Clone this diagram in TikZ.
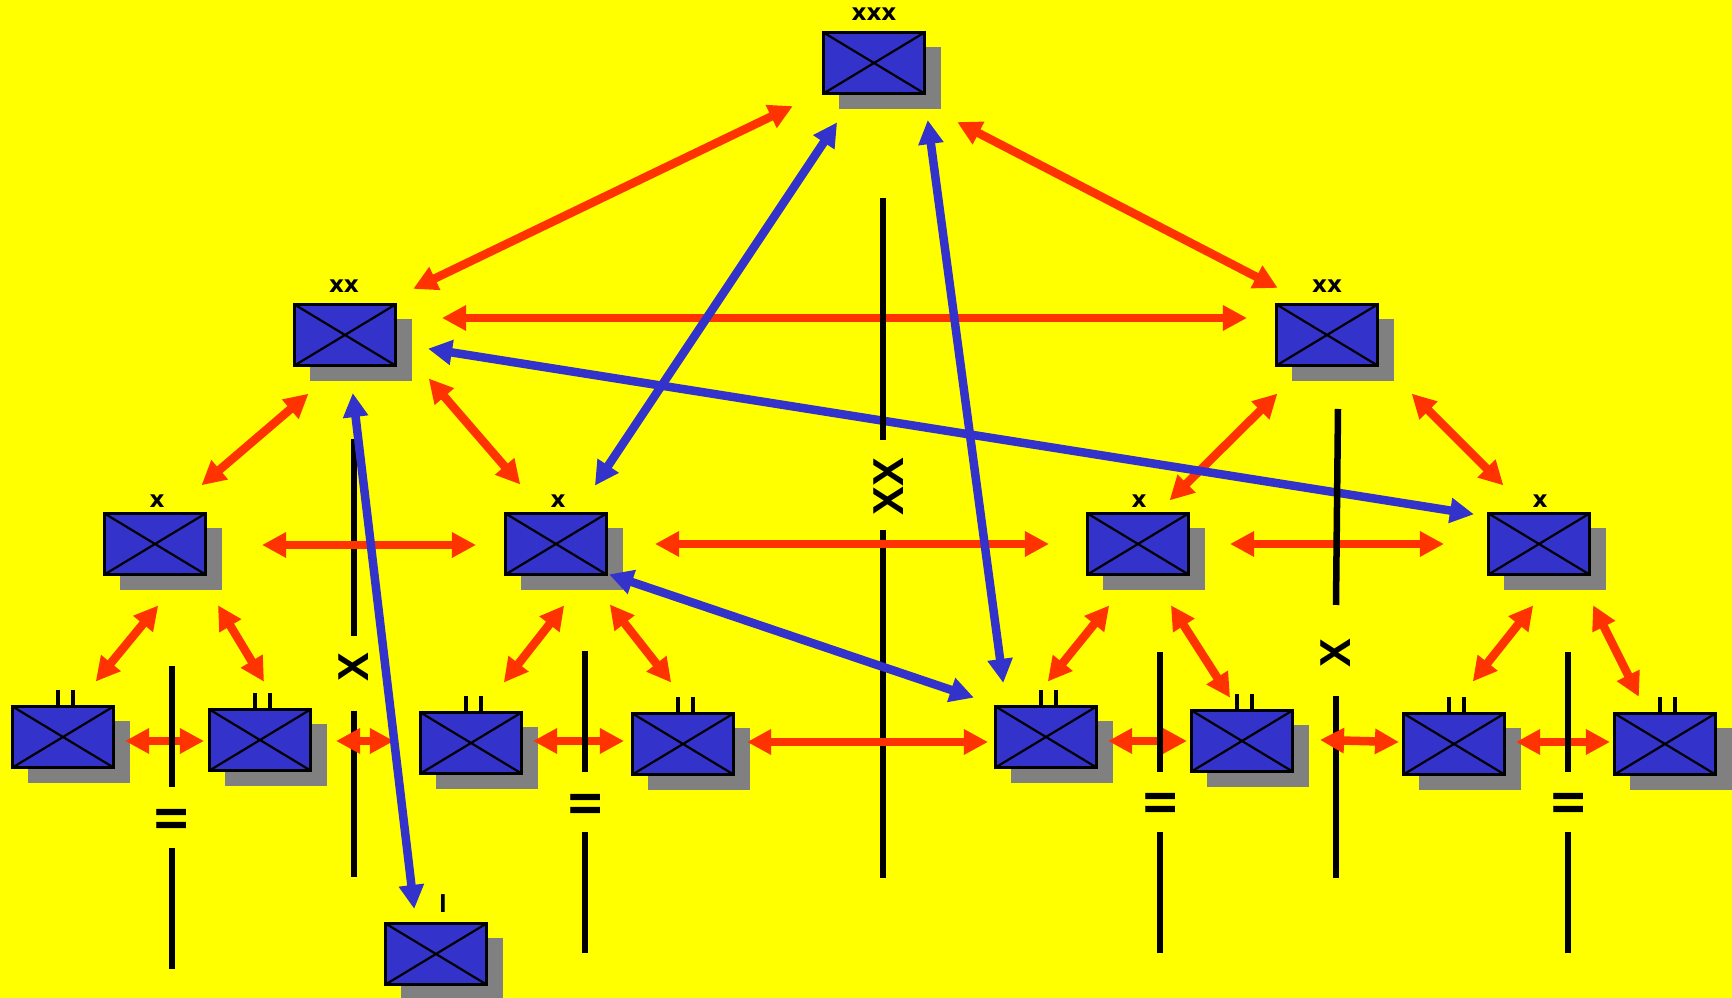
\documentclass[tikz,border=0pt]{standalone}
\usepackage{fontspec}
\setsansfont{Liberation Sans}
\newfontfamily\rankfont{DejaVu Sans}
\usetikzlibrary{arrows.meta,shadows}
\definecolor{fieldyellow}{HTML}{FFFF00}
\definecolor{unitblue}{HTML}{3333CC}
\definecolor{linkred}{HTML}{FF3300}
\definecolor{shadowgray}{HTML}{808080}
\tikzset{
	unit/.style={draw=black,line width=0.03cm,fill=unitblue,minimum width=1.01cm,minimum height=0.61cm,inner sep=0pt,
		drop shadow={shadow xshift=0.16cm,shadow yshift=-0.15cm,fill=shadowgray,opacity=1},
		path picture={
			\draw[line width=0.022cm] (path picture bounding box.north west)--(path picture bounding box.south east);
			\draw[line width=0.022cm] (path picture bounding box.south west)--(path picture bounding box.north east);
		}},
	ranktext/.style={font=\rankfont\bfseries\fontsize{6.6}{8}\selectfont,inner sep=0pt},
	boundtext/.style={font=\sffamily\bfseries\fontsize{12.3}{14}\selectfont,inner sep=0pt,rotate=90},
	boundline/.style={line width=0.065cm,black},
	tickline/.style={line width=0.038cm,black},
	redlink/.style={line width=0.085cm,linkred,shorten <=-0.02cm,shorten >=-0.02cm,{Triangle[length=0.24cm,width=0.24cm]}-{Triangle[length=0.24cm,width=0.24cm]}},
	bluelink/.style={line width=0.085cm,unitblue,shorten <=-0.02cm,shorten >=-0.02cm,{Triangle[length=0.24cm,width=0.24cm]}-{Triangle[length=0.24cm,width=0.24cm]}}
}
\begin{document}
\begin{tikzpicture}[x=0.01cm,y=-0.01cm]
	\useasboundingbox (0,0) rectangle (1732,998);
	\fill[fieldyellow] (0,0) rectangle (1732,998);
	\clip (0,0) rectangle (1732,998);
	% units
	\node[unit] (corps) at (874,63) {};
	\node[unit] (divL) at (345,335) {};
	\node[unit] (divR) at (1327,335) {};
	\node[unit] (brigA) at (155,544) {};
	\node[unit] (brigB) at (556,544) {};
	\node[unit] (brigC) at (1138,544) {};
	\node[unit] (brigD) at (1539,544) {};
	\node[unit] (batA) at (63,737) {};
	\node[unit] (batB) at (260,740) {};
	\node[unit] (batC) at (471,743) {};
	\node[unit] (batD) at (683,744) {};
	\node[unit] (batE) at (1046,737) {};
	\node[unit] (batF) at (1242,741) {};
	\node[unit] (batG) at (1454,744) {};
	\node[unit] (batH) at (1665,744) {};
	\node[unit] (coy) at (436,954) {};
	% rank marks
	\node[ranktext] (corpsrank) at ([shift={(0,-49)}]corps.center) {xxx};
	\node[ranktext] (divLrank) at ([shift={(-1,-49)}]divL.center) {xx};
	\node[ranktext] (divRrank) at ([shift={(0,-49)}]divR.center) {xx};
	\node[ranktext] (brigArank) at ([shift={(2,-42.5)}]brigA.center) {x};
	\node[ranktext] (brigBrank) at ([shift={(2,-42.5)}]brigB.center) {x};
	\node[ranktext] (brigCrank) at ([shift={(1,-42.5)}]brigC.center) {x};
	\node[ranktext] (brigDrank) at ([shift={(1,-42.5)}]brigD.center) {x};
	\node[ranktext,font=\sffamily\bfseries\fontsize{7.4}{8}\selectfont] (coyrank) at ([shift={(7,-50)}]coy.center) {I};
	\draw[tickline] ([shift={(-5,0)}]batA.north)--++(0,-15) ([shift={(10,0)}]batA.north)--++(0,-15);
	\draw[tickline] ([shift={(-5,0)}]batB.north)--++(0,-15) ([shift={(10,0)}]batB.north)--++(0,-15);
	\draw[tickline] ([shift={(-5,0)}]batC.north)--++(0,-15) ([shift={(10,0)}]batC.north)--++(0,-15);
	\draw[tickline] ([shift={(-5,0)}]batD.north)--++(0,-15) ([shift={(10,0)}]batD.north)--++(0,-15);
	\draw[tickline] ([shift={(-5,0)}]batE.north)--++(0,-15) ([shift={(10,0)}]batE.north)--++(0,-15);
	\draw[tickline] ([shift={(-5,0)}]batF.north)--++(0,-15) ([shift={(10,0)}]batF.north)--++(0,-15);
	\draw[tickline] ([shift={(-5,0)}]batG.north)--++(0,-15) ([shift={(10,0)}]batG.north)--++(0,-15);
	\draw[tickline] ([shift={(-5,0)}]batH.north)--++(0,-15) ([shift={(10,0)}]batH.north)--++(0,-15);
	% boundaries under the links
	\node[boundtext] (boundC) at (889,487) {XX};
	\node[boundtext] (boundL) at (354,667) {X};
	\node[boundtext] (boundR) at (1336,653) {X};
	\draw[boundline] ([shift={(-6,43)}]boundC.center)--++(0,348);
	\draw[boundline] ([shift={(0,44)}]boundL.center)--++(0,166);
	\draw[boundline] ([shift={(0,-31)}]boundL.center)--++(0,-197);
	\draw[boundline] ([shift={(0,43)}]boundR.center)--++(0,182);
	% red links
	\draw[redlink] ([shift={(-83,44)}]corps.center)--([shift={(70,-47)}]divL.center);
	\draw[redlink] ([shift={(85,60)}]corps.center)--([shift={(-51,-48)}]divR.center);
	\draw[redlink] ([shift={(99,-17)}]divL.center)--([shift={(-82,-17)}]divR.center);
	\draw[redlink] ([shift={(-38,60)}]divL.center)--([shift={(48,-60)}]brigA.center);
	\draw[redlink] ([shift={(85,45)}]divL.center)--([shift={(-37,-61)}]brigB.center);
	\draw[redlink] ([shift={(-51,60)}]divR.center)--([shift={(33,-45)}]brigC.center);
	\draw[redlink] ([shift={(86,60)}]divR.center)--([shift={(-37,-60)}]brigD.center);
	\draw[redlink] ([shift={(109,1)}]brigA.center)--([shift={(-82,1)}]brigB.center);
	\draw[redlink] ([shift={(101,0)}]brigB.center)--([shift={(-91,0)}]brigC.center);
	\draw[redlink] ([shift={(94,0)}]brigC.center)--([shift={(-97,0)}]brigD.center);
	\draw[redlink] ([shift={(2,63)}]brigA.center)--([shift={(34,-57)}]batA.center);
	\draw[redlink] ([shift={(64,63)}]brigA.center)--([shift={(3,-60)}]batB.center);
	\draw[redlink] ([shift={(7,63)}]brigB.center)--([shift={(34,-62)}]batC.center);
	\draw[redlink] ([shift={(55,62)}]brigB.center)--([shift={(-13,-63)}]batD.center);
	\draw[redlink] ([shift={(-30,63)}]brigC.center)--([shift={(3,-57)}]batE.center);
	\draw[redlink] ([shift={(34,63)}]brigC.center)--([shift={(-13,-45)}]batF.center);
	\draw[redlink] ([shift={(-7,63)}]brigD.center)--([shift={(20,-64)}]batG.center);
	\draw[redlink] ([shift={(55,63)}]brigD.center)--([shift={(-27,-49)}]batH.center);
	\draw[redlink] ([shift={(64,4)}]batA.center)--([shift={(-58,1)}]batB.center);
	\draw[redlink] ([shift={(78,1)}]batB.center)--([shift={(-79,-2)}]batC.center);
	\draw[redlink] ([shift={(64,-2)}]batC.center)--([shift={(-61,-3)}]batD.center);
	\draw[redlink] ([shift={(66,-2)}]batD.center)--([shift={(-60,5)}]batE.center);
	\draw[redlink] ([shift={(64,4)}]batE.center)--([shift={(-57,0)}]batF.center);
	\draw[redlink] ([shift={(80,-1)}]batF.center)--([shift={(-57,-2)}]batG.center);
	\draw[redlink] ([shift={(64,-2)}]batG.center)--([shift={(-57,-2)}]batH.center);
	% blue links
	\draw[bluelink] ([shift={(-38,61)}]corps.center)--([shift={(40,-60)}]brigB.center);
	\draw[bluelink] ([shift={(54,59)}]corps.center)--([shift={(-43,-56)}]batE.center);
	\draw[bluelink] ([shift={(85,14)}]divL.center)--([shift={(-67,-30)}]brigD.center);
	\draw[bluelink] ([shift={(55,31)}]brigB.center)--([shift={(-74,-40)}]batE.center);
	\draw[bluelink] ([shift={(8,60)}]divL.center)--([shift={(-22,-47)}]coy.center);
	% boundaries over the links
	\node[boundtext] (boundA) at (172,819) {II};
	\node[boundtext] (boundB) at (586,804) {II};
	\node[boundtext] (boundE) at (1161,803) {II};
	\node[boundtext] (boundG) at (1569,803) {II};
	\draw[boundline] ([shift={(-6,-47)}]boundC.center)--++(0,-242);
	\draw[boundline] ([shift={(0,-48)}]boundR.center)--++(2,-196);
	\draw[boundline] ([shift={(0,-32)}]boundA.center)--++(0,-121);
	\draw[boundline] ([shift={(0,29)}]boundA.center)--++(0,121);
	\draw[boundline] ([shift={(-1,-32)}]boundB.center)--++(0,-121);
	\draw[boundline] ([shift={(-1,28)}]boundB.center)--++(0,121);
	\draw[boundline] ([shift={(-1,-31)}]boundE.center)--++(0,-120);
	\draw[boundline] ([shift={(-1,29)}]boundE.center)--++(0,121);
	\draw[boundline] ([shift={(-1,-31)}]boundG.center)--++(0,-120);
	\draw[boundline] ([shift={(-1,29)}]boundG.center)--++(0,121);
\end{tikzpicture}
\end{document}
